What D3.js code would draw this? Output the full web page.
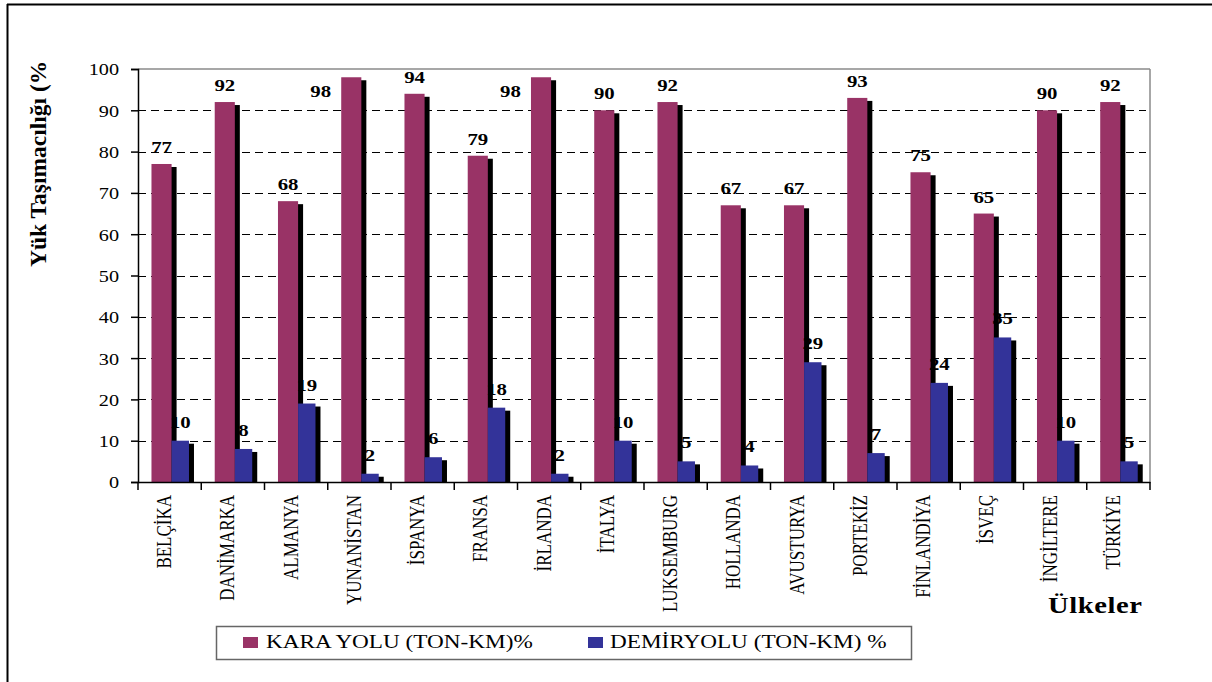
<!DOCTYPE html>
<html>
<head>
<meta charset="utf-8">
<script src="https://cdn.jsdelivr.net/npm/d3@7"></script>
<style>
  body { margin: 0; background: #fff; }
</style>
</head>
<body>
<svg id="chart" width="1212" height="682"></svg>
<script>
// Road vs. rail share of freight transport (ton-km %) by country
const countries = ["BELÇİKA", "DANİMARKA", "ALMANYA", "YUNANİSTAN", "İSPANYA", "FRANSA", "İRLANDA", "İTALYA",
  "LUKSEMBURG", "HOLLANDA", "AVUSTURYA", "PORTEKİZ", "FİNLANDİYA", "İSVEÇ", "İNGİLTERE", "TÜRKİYE"];
const karayolu = [77, 92, 68, 98, 94, 79, 98, 90, 92, 67, 67, 93, 75, 65, 90, 92];
const demiryolu = [10, 8, 19, 2, 6, 18, 2, 10, 5, 4, 29, 7, 24, 35, 10, 5];
const yTicks = [0, 10, 20, 30, 40, 50, 60, 70, 80, 90, 100];
const gridTicks = [10, 20, 30, 40, 50, 60, 70, 80, 90];
const seriesNames = ["KARA YOLU (TON-KM)%", "DEMİRYOLU (TON-KM) %"];
const seriesColors = ["#993366", "#333399"];
const yTitle = "Yük Taşımacılığı (%)";
const xTitle = "Ülkeler";

const SERIF = "'Liberation Serif', 'Times New Roman', serif";
const svg = d3.select("#chart").style("font-family", SERIF);
const SX = 1.19; // horizontal widening of the serif lettering

const plot = { left: 138, right: 1150, top: 69, bottom: 482 };
const x = d3.scaleBand().domain(countries).range([plot.left, plot.right]);
const y = d3.scaleLinear().domain([0, 100]).range([plot.bottom, plot.top]);
const bw = x.bandwidth();

// outer frame (top and left edges)
svg.append("line").attr("x1", 7).attr("x2", 1212).attr("y1", 4.5).attr("y2", 4.5)
  .attr("stroke", "#000").attr("stroke-width", 2);
svg.append("line").attr("x1", 7.5).attr("x2", 7.5).attr("y1", 4).attr("y2", 682)
  .attr("stroke", "#000").attr("stroke-width", 2);

// plot area border (top and right)
svg.append("line").attr("x1", plot.left).attr("x2", plot.right).attr("y1", y(100)).attr("y2", y(100))
  .attr("stroke", "#8a8a8a").attr("stroke-width", 1.5);
svg.append("line").attr("x1", plot.right).attr("x2", plot.right).attr("y1", y(100)).attr("y2", y(0))
  .attr("stroke", "#8a8a8a").attr("stroke-width", 1.5);

// dashed gridlines
svg.append("g").selectAll("line").data(gridTicks).join("line")
  .attr("x1", plot.left).attr("x2", plot.right - 4)
  .attr("y1", d => Math.round(y(d)) + 0.5).attr("y2", d => Math.round(y(d)) + 0.5)
  .attr("stroke", "#000").attr("stroke-width", 1).attr("stroke-dasharray", "8,5");

// bar geometry inside each band
const redX = c => x(c) + bw * 0.213;
const redW = bw * 0.318;
const blueX = c => redX(c) + redW;
const blueW = bw * 0.275;
const shadow = { dx: 5, dy: 3 };

const rows = countries.map((c, i) => ({ c, road: karayolu[i], rail: demiryolu[i] }));
const bars = svg.append("g");

function drawSeries(key, xf, w, color) {
  bars.append("g").selectAll("rect").data(rows).join("rect")
    .attr("x", d => xf(d.c) + shadow.dx).attr("width", w)
    .attr("y", d => y(d[key]) + shadow.dy)
    .attr("height", d => Math.max(0, y(0) - y(d[key]) - shadow.dy))
    .attr("fill", "#000");
  bars.append("g").selectAll("rect").data(rows).join("rect")
    .attr("x", d => xf(d.c)).attr("width", w)
    .attr("y", d => y(d[key])).attr("height", d => y(0) - y(d[key]))
    .attr("fill", color);
}
drawSeries("road", redX, redW, seriesColors[0]);
drawSeries("rail", blueX, blueW, seriesColors[1]);

// axes
const yAxis = d3.axisLeft(y).tickValues(yTicks).tickSize(7).tickPadding(0).tickFormat(d3.format("d"));
const gy = svg.append("g").attr("transform", `translate(${plot.left},0)`).call(yAxis)
  .attr("font-family", SERIF).attr("font-size", 17);
gy.select(".domain").attr("stroke", "#000").attr("stroke-width", 1.5);
gy.selectAll(".tick line").attr("stroke", "#000").attr("stroke-width", 1.5);
gy.selectAll(".tick text")
  .attr("x", 0).attr("dy", "0.35em")
  .attr("transform", `translate(-19,0) scale(${SX},1)`)
  .attr("text-anchor", "end")
  .attr("fill", "#000")
  .style("font-family", SERIF).style("font-size", "17px");

const xAxis = d3.axisBottom(x).tickSize(0).tickPadding(0);
const gx = svg.append("g").attr("transform", `translate(0,${plot.bottom})`).call(xAxis)
  .attr("font-family", SERIF).attr("font-size", 17);
gx.select(".domain").attr("stroke", "#000").attr("stroke-width", 1.5);
gx.selectAll(".tick text")
  .attr("x", 0).attr("y", 0).attr("dy", "0.35em")
  .attr("transform", `translate(-5.5,13) scale(${SX},1) rotate(-90)`)
  .attr("text-anchor", "end")
  .attr("fill", "#000")
  .style("font-family", SERIF).style("font-size", "17px");

// category boundary ticks
const edges = countries.map(c => x(c)).concat([plot.right]);
svg.append("g").selectAll("line").data(edges).join("line")
  .attr("x1", d => d).attr("x2", d => d)
  .attr("y1", plot.bottom).attr("y2", plot.bottom + 8)
  .attr("stroke", "#000").attr("stroke-width", 1.5);

// value labels
const labels = svg.append("g");
function styleLabel(sel) {
  sel.attr("text-anchor", "middle")
    .style("font-family", SERIF).style("font-weight", "bold").style("font-size", "17.5px");
}
labels.selectAll("text.road").data(rows).join("text").attr("class", "road")
  .call(styleLabel)
  .attr("transform", d => {
    const top = y(d.road);
    if (top - 11 - 13 < plot.top) {
      // no room above: set the label beside the bar
      return `translate(${redX(d.c) - 20.5},${top + 20}) scale(${SX},1)`;
    }
    return `translate(${redX(d.c) + redW / 2},${top - 11}) scale(${SX},1)`;
  })
  .text(d => d.road);
labels.selectAll("text.rail").data(rows).join("text").attr("class", "rail")
  .call(styleLabel)
  .attr("transform", d => `translate(${blueX(d.c) + blueW / 2},${y(d.rail) - 13}) scale(${SX},1)`)
  .text(d => d.rail);

// axis titles
svg.append("clipPath").attr("id", "ytitle-clip")
  .append("rect").attr("x", 0).attr("y", 63).attr("width", 120).attr("height", 620);
svg.append("g").attr("clip-path", "url(#ytitle-clip)")
  .append("text")
  .attr("transform", "translate(46,267) rotate(-90)")
  .attr("text-anchor", "start")
  .style("font-family", SERIF).style("font-size", "23.5px").style("font-weight", "bold")
  .text(yTitle);

svg.append("text")
  .attr("transform", `translate(1048,613) scale(${SX},1)`)
  .style("font-family", SERIF).style("font-size", "24px").style("font-weight", "bold")
  .style("letter-spacing", "0.5px")
  .text(xTitle);

// legend
const legend = svg.append("g");
legend.append("rect").attr("x", 216.5).attr("y", 626.5).attr("width", 695).attr("height", 33)
  .attr("fill", "#fff").attr("stroke", "#666").attr("stroke-width", 1.5);
const legendItems = [
  { name: seriesNames[0], color: seriesColors[0], mx: 243, tx: 266 },
  { name: seriesNames[1], color: seriesColors[1], mx: 588, tx: 610 }
];
legend.selectAll("rect.key").data(legendItems).join("rect").attr("class", "key")
  .attr("x", d => d.mx).attr("y", 637).attr("width", 15).attr("height", 11)
  .attr("fill", d => d.color);
legend.selectAll("text").data(legendItems).join("text")
  .attr("transform", d => `translate(${d.tx},648) scale(${SX},1)`)
  .style("font-family", SERIF).style("font-size", "19.5px")
  .text(d => d.name);
</script>
</body>
</html>
